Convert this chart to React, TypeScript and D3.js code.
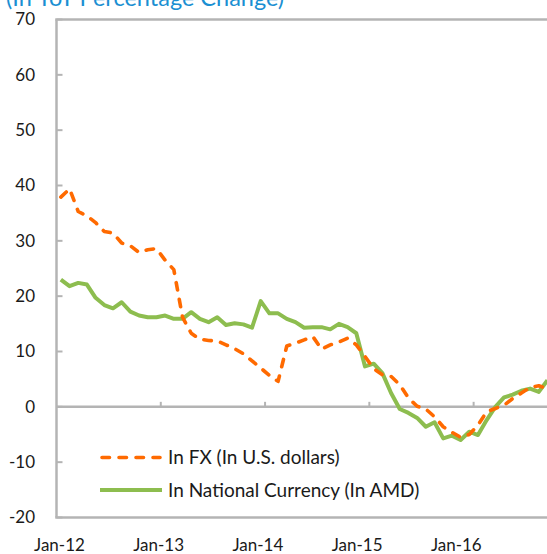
import React from 'react';
import * as d3 from 'd3';

const title = '(In YoY Percentage Change)';
const yTicks = [-20, -10, 0, 10, 20, 30, 40, 50, 60, 70];
const xTickLabels = ['Jan-12', 'Jan-13', 'Jan-14', 'Jan-15', 'Jan-16'];
const seriesNames = ['In FX (In U.S. dollars)', 'In National Currency (In AMD)'];

// Monthly, Jan-12 .. Sep-16
const fx = [
  37.9, 39.4, 35.3, 34.5, 33.3, 31.7, 31.4, 29.6, 29.1, 27.9, 28.4, 28.6,
  26.5, 24.8, 16.2, 13.3, 12.2, 12.0, 11.9, 11.2, 10.5, 9.6, 8.3, 7.0,
  5.7, 4.6, 11.0, 11.5, 12.1, 12.7, 10.4, 11.2, 11.7, 12.4, 11.2, 9.1,
  6.9, 5.8, 5.5, 4.0, 1.6, 0.1, -0.4, -1.8, -3.6, -4.6, -5.5, -5.0,
  -3.3, -0.9, -0.3, 0.3, 1.5, 2.5, 3.5, 3.8, 3.3,
];
const amd = [
  23.0, 21.8, 22.4, 22.1, 19.7, 18.4, 17.8, 18.9, 17.2, 16.5, 16.2, 16.2,
  16.5, 15.9, 15.9, 17.1, 15.9, 15.3, 16.2, 14.8, 15.1, 14.9, 14.3, 19.1,
  16.9, 16.9, 15.9, 15.3, 14.3, 14.4, 14.4, 14.0, 15.0, 14.4, 13.3, 7.3,
  7.8, 6.1, 2.5, -0.4, -1.1, -2.0, -3.6, -2.8, -5.7, -5.2, -6.0, -4.5,
  -5.1, -2.4, 0.0, 1.7, 2.2, 2.9, 3.3, 2.7, 4.8,
];

const W = 547;
const H = 554;
const GRAY = '#b4b4b4';
const ORANGE = '#ff6a00';
const GREEN = '#8dbd4f';
const FONT = 'Lato, "Open Sans", sans-serif';

export default function App() {
  const x = d3.scaleLinear().domain([-0.5, 56.5]).range([56.5, 56.5 + 57 * 8.69]);
  const y = d3.scaleLinear().domain([-20, 70]).range([517.5, 19.5]);
  const labelX = d3.scaleLinear().domain([0, 4]).range([59.5, 456.3]);
  const line = d3
    .line<number>()
    .x((_, i) => x(i))
    .y((d) => y(d));
  const x0 = x(-0.5);
  const xEnd = 600;
  const yearTicks = [11.5, 23.5, 35.5, 47.5];

  return (
    <svg
      width={W}
      height={H}
      style={{ position: 'absolute', left: 0, top: 0, background: '#fff' }}
      fontFamily={FONT}
    >
      <text x={6} y={5.5} fontSize={23.5} fill="#1b8fd2">
        {title}
      </text>
      {/* frame */}
      <line x1={x0 - 1.25} x2={xEnd} y1={y(70)} y2={y(70)} stroke={GRAY} strokeWidth={2.5} />
      <line x1={x0 - 1.25} x2={xEnd} y1={y(-20)} y2={y(-20)} stroke={GRAY} strokeWidth={2.5} />
      <line x1={x0} x2={x0} y1={y(70)} y2={y(-20)} stroke={GRAY} strokeWidth={2.5} />
      {/* zero axis */}
      <line x1={x0} x2={xEnd} y1={y(0)} y2={y(0)} stroke={GRAY} strokeWidth={2.5} />
      {yearTicks.map((t) => (
        <line key={t} x1={x(t)} x2={x(t)} y1={y(0)} y2={y(0) - 5} stroke={GRAY} strokeWidth={2} />
      ))}
      {yTicks.map((t) => (
        <g key={t}>
          <line x1={x0} x2={x0 + 6} y1={y(t)} y2={y(t)} stroke={GRAY} strokeWidth={2} />
          <text x={35} y={y(t)} dy="0.35em" textAnchor="end" fontSize={17} fill="#1a1a1a">
            {t}
          </text>
        </g>
      ))}
      {xTickLabels.map((l, i) => (
        <text key={l} x={labelX(i)} y={551} textAnchor="middle" fontSize={17} fill="#1a1a1a">
          {l}
        </text>
      ))}
      <path d={line(amd) || ''} fill="none" stroke={GREEN} strokeWidth={4} strokeLinejoin="round" />
      <path
        d={line(fx) || ''}
        fill="none"
        stroke={ORANGE}
        strokeWidth={3.6}
        strokeDasharray="7.5 9.5"
        strokeLinecap="round"
        strokeLinejoin="round"
      />
      {/* legend */}
      <line x1={102} x2={160} y1={457.5} y2={457.5} stroke={ORANGE} strokeWidth={3.6} strokeDasharray="7.5 9.5" strokeLinecap="round" />
      <text x={168} y={457.5} dy="0.35em" fontSize={19} fill="#1a1a1a">
        {seriesNames[0]}
      </text>
      <line x1={100} x2={162} y1={490} y2={490} stroke={GREEN} strokeWidth={4} />
      <text x={168} y={490} dy="0.35em" fontSize={19} fill="#1a1a1a">
        {seriesNames[1]}
      </text>
    </svg>
  );
}
